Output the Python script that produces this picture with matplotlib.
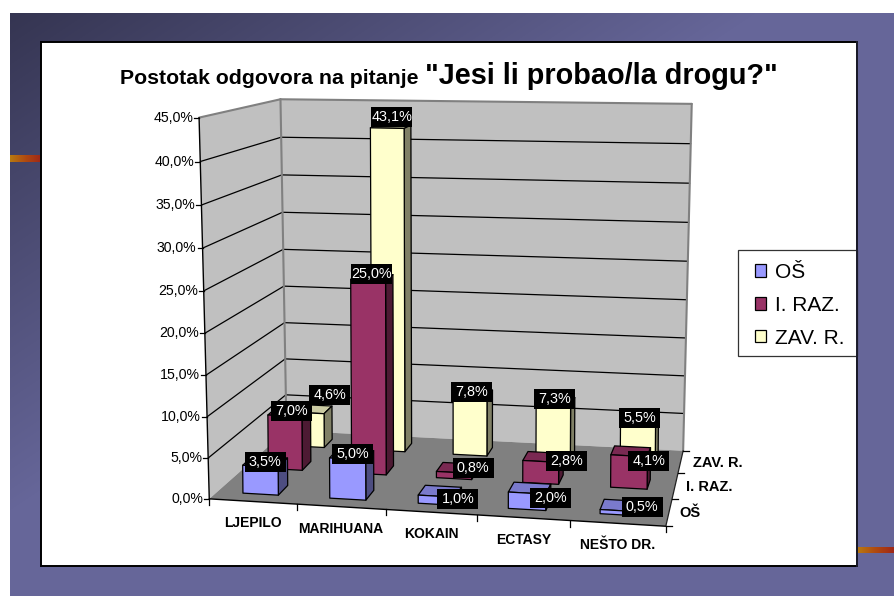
import numpy as np
import matplotlib
matplotlib.use("Agg")
import matplotlib.pyplot as plt
from matplotlib.patches import Polygon, Rectangle, Patch
from matplotlib.colors import LinearSegmentedColormap

plt.rcParams['font.family'] = ['Liberation Sans', 'DejaVu Sans']

categories = ["LJEPILO", "MARIHUANA", "KOKAIN", "ECTASY", "NEŠTO DR."]
series = ["OŠ", "I. RAZ.", "ZAV. R."]
os_values = [3.5, 5.0, 1.0, 2.0, 0.5]
raz_values = [7.0, 25.0, 0.8, 2.8, 4.1]
zav_values = [4.6, 43.1, 7.8, 7.3, 5.5]
y_ticks = [0, 5, 10, 15, 20, 25, 30, 35, 40, 45]
title_a = "Postotak odgovora na pitanje"
title_b = '"Jesi li probao/la drogu?"'

front = ["#9999FF", "#993366", "#FFFFCC"]
side = ["#4D4D80", "#4D1A33", "#808066"]
top = ["#7A7ACC", "#7A2952", "#CCCCA3"]
YMAX = 45.0

# label nudges in pixels from the centre of each bar's top, per series
label_nudge = [
    [(0, 0), (1, 0), (18, 8), (21, 10), (21, 2)],
    [(2, -1), (0, -3), (16, 0), (23, 4), (18, 10)],
    [(18, -14), (1, -9), (-1, -1), (-1, -2), (0, 0)],
]

# calibration of the 3-D box: (category fraction, series fraction, value fraction) -> pixel
cal_3d = [(0, 0, 0), (1, 0, 0), (0, 1, 0), (1, 1, 0), (0, 0, 1), (0, 1, 1), (1, 1, 1),
          (0, 0, 20 / 45), (0, 1, 20 / 45)]
cal_px = [(209, 498), (666, 527), (287, 431), (683, 450), (200, 118), (280, 98.5), (691.7, 104),
          (204, 333), (284, 287)]

# second calibration for the bars: (category slot, series slot, value fraction) -> pixel
BAR_W = 0.41
BAR_D = 0.38
bar_cal_3d = [(0, 0, 0), (BAR_W, 0, 0), (BAR_W, BAR_D, 0), (0, 0, 3.5 / 45),
              (1, 0, 0), (1 + BAR_W, BAR_D, 0), (1, 1, 25 / 45), (1 + BAR_W, 1 + BAR_D, 25 / 45),
              (1, 2, 43.1 / 45), (1 + BAR_W, 2, 43.1 / 45), (1 + BAR_W, 2 + BAR_D, 0),
              (0, 1, 0), (2 + BAR_W, 2 + BAR_D, 7.8 / 45), (3 + BAR_W, 1 + BAR_D, 0),
              (3, 0, 0), (3 + BAR_W, 0, 0), (3, 2, 7.3 / 45), (4, 0, 0),
              (4 + BAR_W, 1, 0), (4, 1 + BAR_D, 4.1 / 45), (4, 2, 5.5 / 45)]
bar_cal_px = [(242, 493), (278, 495.7), (289, 485), (242, 465),
              (330, 497.7), (373.7, 490), (351.7, 284), (393, 271),
              (371, 128), (403, 128), (412, 444),
              (268, 468), (493, 390), (563, 477),
              (508, 508), (546, 510), (536, 403), (601, 514),
              (647, 489), (614, 446), (620, 421)]


def fit_camera(pts3, pts2):
    rows = []
    for (a, b, c), (x, y) in zip(pts3, pts2):
        rows.append([a, b, c, 1, 0, 0, 0, 0, -x * a, -x * b, -x * c, -x])
        rows.append([0, 0, 0, 0, a, b, c, 1, -y * a, -y * b, -y * c, -y])
    _, _, vt = np.linalg.svd(np.array(rows, float))
    return vt[-1].reshape(3, 4)


CAM = fit_camera(cal_3d, cal_px)
BAR_CAM = fit_camera(bar_cal_3d, bar_cal_px)


def proj(u, v, val):
    p = CAM @ np.array([u, v, val / YMAX, 1.0])
    return p[0] / p[2], p[1] / p[2]


def bproj(i, j, val):
    p = BAR_CAM @ np.array([i, j, val / YMAX, 1.0])
    return p[0] / p[2], p[1] / p[2]


fig = plt.figure(figsize=(8.94, 5.96), dpi=100, facecolor="white")

# slide background
bg = fig.add_axes([0, 0, 1, 1], zorder=0)
yy, xx = np.mgrid[0:596, 0:894]
t = np.clip(1.15 * (xx / 894.0 + yy / 596.0), 0, 1)
cm = LinearSegmentedColormap.from_list("bgc", ["#33334F", "#666699"])
bg.imshow(t, cmap=cm, vmin=0, vmax=1, extent=(0, 894, 596, 0), aspect="auto", interpolation="bilinear")
bg.add_patch(Rectangle((0, 0), 894, 13, fc="white", ec="none"))
bg.add_patch(Rectangle((0, 0), 10, 596, fc="white", ec="none"))
strip = LinearSegmentedColormap.from_list("st", ["#B87A10", "#B04A10", "#A02818"])
g = np.linspace(0, 1, 60).reshape(1, -1)
bg.imshow(g, cmap=strip, extent=(10, 41, 162, 155), aspect="auto")
bg.imshow(g, cmap=strip, extent=(857, 894, 553, 547), aspect="auto")
bg.set_xlim(0, 894)
bg.set_ylim(596, 0)
bg.axis("off")

ax = fig.add_axes([0, 0, 1, 1], zorder=1)
ax.set_xlim(0, 894)
ax.set_ylim(596, 0)
ax.axis("off")
ax.patch.set_alpha(0)

# chart panel
ax.add_patch(Rectangle((41, 42), 816, 524, fc="white", ec="black", lw=1.4, zorder=0))


def quad(corners, fc, ec="none", lw=0.0, z=1, p=proj):
    ax.add_patch(Polygon([p(*c) for c in corners], closed=True, fc=fc, ec=ec, lw=lw,
                         joinstyle="round", zorder=z))


def seg(a, b, color="black", lw=0.9, z=2):
    pa, pb = proj(*a), proj(*b)
    ax.plot([pa[0], pb[0]], [pa[1], pb[1]], color=color, lw=lw, zorder=z, solid_capstyle="round")


# walls and floor
quad([(0, 0, 0), (0, 1, 0), (0, 1, YMAX), (0, 0, YMAX)], "#C0C0C0")
quad([(0, 1, 0), (1, 1, 0), (1, 1, YMAX), (0, 1, YMAX)], "#C0C0C0")
quad([(0, 0, 0), (1, 0, 0), (1, 1, 0), (0, 1, 0)], "#808080")

for val in y_ticks[1:-1]:
    seg((0, 0, val), (0, 1, val))
    seg((0, 1, val), (1, 1, val))
seg((0, 0, YMAX), (0, 1, YMAX), "#808080", 1.5)
seg((0, 1, YMAX), (1, 1, YMAX), "#808080", 1.5)
seg((0, 1, 0), (0, 1, YMAX), "#808080", 1.5)
seg((1, 1, 0), (1, 1, YMAX), "#808080", 1.5)

# axis lines, ticks, tick labels
seg((0, 0, 0), (0, 0, YMAX), "black", 1.0, 3)
seg((0, 0, 0), (1, 0, 0), "black", 1.0, 3)
seg((1, 0, 0), (1, 1, 0), "#222222", 0.9, 3)
for val in y_ticks:
    x, y = proj(0, 0, val)
    ax.plot([x - 5, x], [y, y], color="black", lw=0.9, zorder=3)
    ax.text(x - 6, y, f"{val:.1f}%".replace(".", ","), ha="right", va="center", fontsize=10.2, zorder=3)
for k in range(len(categories) + 1):
    x, y = proj(k / len(categories), 0, 0)
    ax.plot([x, x], [y, y + 6], color="black", lw=0.9, zorder=3)
for k, name in enumerate(categories):
    x, y = proj((k + 0.5) / len(categories), 0, 0)
    ax.text(x, y + 22, name, ha="center", va="center", fontsize=10, fontweight="bold", zorder=3)
for k in range(len(series) + 1):
    x, y = proj(1, k / len(series), 0)
    ax.plot([x, x + 6], [y, y], color="black", lw=0.9, zorder=3)
for k, name in enumerate(series):
    x, y = proj(1, (k + 0.5) / len(series), 0)
    ax.text(x + 10 + k, y + 1, name, ha="left", va="center", fontsize=10.5, fontweight="bold", zorder=3)

# bars, back series first
values = [os_values, raz_values, zav_values]
order = 10
labels = []
for j in reversed(range(len(series))):
    for i, val in enumerate(values[j]):
        u0, u1 = i, i + BAR_W
        v0, v1 = j, j + BAR_D
        kw = dict(ec="black", lw=0.9, p=bproj)
        quad([(u0, v0, val), (u1, v0, val), (u1, v1, val), (u0, v1, val)], top[j], z=order, **kw)
        quad([(u1, v0, 0), (u1, v1, 0), (u1, v1, val), (u1, v0, val)], side[j], z=order, **kw)
        quad([(u0, v0, 0), (u1, v0, 0), (u1, v0, val), (u0, v0, val)], front[j], z=order, **kw)
        order += 1
        labels.append((i, j, val))

for i, j, val in labels:
    x, y = bproj(i + BAR_W / 2, j + BAR_D / 2, val)
    dx, dy = label_nudge[j][i]
    ax.add_patch(Rectangle((x + dx - 20.5, y + dy - 10), 41, 20, fc="black", ec="none", zorder=100))
    ax.text(x + dx, y + dy, f"{val:.1f}%".replace(".", ","), color="white", ha="center", va="center",
            fontsize=10.4, zorder=101)

# title
ax.text(120, 78, title_a, fontsize=15.3, fontweight="bold", ha="left", va="center", zorder=5)
ax.text(425, 76, title_b, fontsize=20.8, fontweight="bold", ha="left", va="center", zorder=5)

# legend
ax.add_patch(Rectangle((738, 250), 119, 106, fc="white", ec="#333333", lw=0.9, zorder=6))
handles = [Patch(fc=front[j], ec="black", lw=0.9, label=series[j]) for j in range(len(series))]
leg = ax.legend(handles=handles, loc="upper left", bbox_to_anchor=(755, 263),
                bbox_transform=ax.transData, borderaxespad=0, borderpad=0, fontsize=15,
                handlelength=0.53, handleheight=0.53, handletextpad=0.42,
                labelspacing=0.66, frameon=False)
leg.set_zorder(7)
ax.plot([857, 857], [42, 566], color="#1A1A2A", lw=1.4, zorder=8)

fig.savefig("out.png", dpi=100)
